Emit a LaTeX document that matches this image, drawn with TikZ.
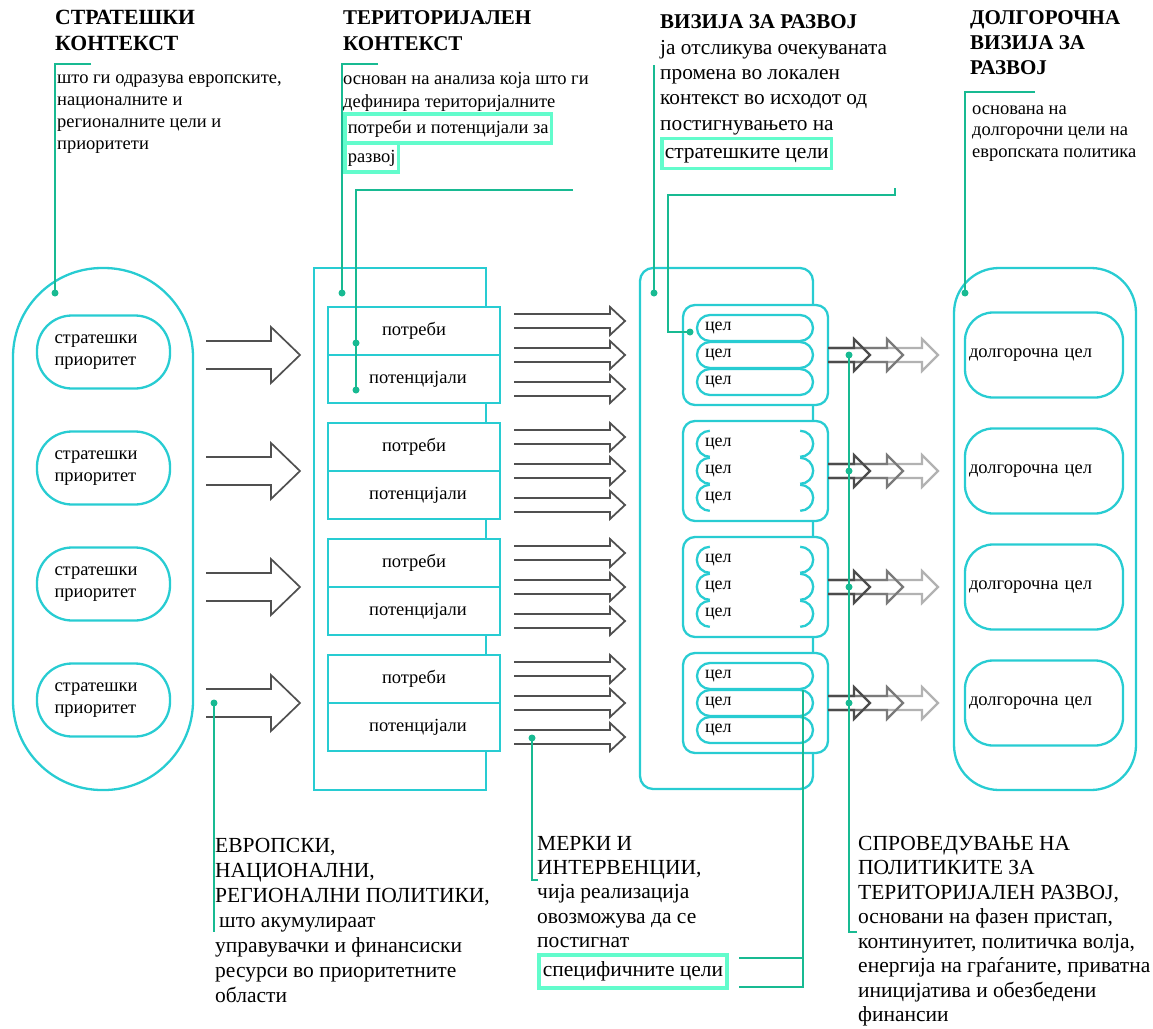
\documentclass[tikz,border=0pt]{standalone}
\usepackage{fontspec}
\setmainfont{Liberation Serif}

\definecolor{frameblue}{RGB}{40,204,210}
\definecolor{calloutgreen}{RGB}{24,186,146}
\definecolor{hlgreen}{RGB}{98,252,204}
\definecolor{arrowgrey}{RGB}{80,80,80}

\begin{document}
\begin{tikzpicture}[x=1pt, y=-1pt]
    \tikzstyle{every node}=[inner sep=0pt]
    \tikzstyle{outline}=[draw=frameblue, line width=2.3pt]
    \tikzstyle{calloutline}=[draw=calloutgreen, line width=1.8pt]
    \tikzstyle{calloutdot}=[fill=calloutgreen, circle, minimum size=7pt]
    \tikzstyle{headtext}=[anchor=north west, align=left, font=\fontsize{21}{26}\bfseries]
    \tikzstyle{notetext}=[anchor=north west, align=left, font=\fontsize{18.5}{23}\selectfont]
    \tikzstyle{bignotetext}=[anchor=north west, align=left, font=\fontsize{21.5}{25}\selectfont]
    \tikzstyle{markbox}=[draw=hlgreen, line width=3.5pt, anchor=base west, inner xsep=3pt, inner ysep=6pt, text height=13pt, text depth=4pt, font=\fontsize{18.5}{23}\selectfont]
    \tikzstyle{prio}=[outline, minimum width=133pt, minimum height=73pt, rounded corners=35pt, text width=98pt, inner xsep=17.5pt, align=left, font=\fontsize{18.5}{22}\selectfont]
    \tikzstyle{cell}=[outline, fill=white, minimum width=172pt, minimum height=48pt, font=\fontsize{18.5}{22}\selectfont]
    \tikzstyle{goalgroup}=[outline, fill=white, minimum width=145pt, minimum height=100pt, rounded corners=12pt]
    \tikzstyle{celtext}=[minimum height=26pt, text width=100pt, inner xsep=8pt, align=left, font=\fontsize{18}{20}\selectfont]
    \tikzstyle{cel}=[celtext, outline, fill=white, rounded corners=13pt]
    \tikzstyle{longgoal}=[outline, minimum width=158pt, minimum height=85pt, rounded corners=28pt, text width=150pt, inner xsep=4pt, align=left, font=\fontsize{18.5}{22}\selectfont]
    \tikzstyle{openarrow}=[draw=arrowgrey, line width=1.7pt]
    \useasboundingbox (0,0) rectangle (1153,1028);

    % headings and notes
    \node (stratctx) [headtext, font=\fontsize{21.7}{26}\bfseries] at (55,6) {\strut СТРАТЕШКИ\\КОНТЕКСТ};
    \node (stratnote) [notetext, font=\fontsize{18.5}{22}\selectfont] at (57,68) {\strut што ги одразува европските,\\националните и\\регионалните цели и\\приоритети};
    \node (terrctx) [headtext] at (343,6) {\strut ТЕРИТОРИЈАЛЕН\\КОНТЕКСТ};
    \node (terrnote) [notetext] at (343,68) {\strut основан на анализа која што ги\\дефинира територијалните};
    \node (needbox) [markbox] at (343,133) {потреби и потенцијали за};
    \node (devbox) [markbox] at (343,162) {развој};
    \node (visionhead) [headtext, font=\fontsize{21}{25}\bfseries] at (660,11) {\strut ВИЗИЈА ЗА РАЗВОЈ};
    \node (visionnote) [notetext, font=\fontsize{21.3}{25.3}\selectfont] at (660,36.3) {\strut ја отсликува очекуваната\\промена во локален\\контекст во исходот од\\постигнувањето на};
    \node (goalbox) [markbox, font=\fontsize{21.5}{25}\selectfont, text height=14pt, text depth=5pt, inner ysep=5.5pt] at (660,158) {стратешките цели};
    \node (longhead) [headtext, font=\fontsize{21}{25}\bfseries] at (970,7) {\strut ДОЛГОРОЧНА\\ВИЗИЈА ЗА\\РАЗВОЈ};
    \node (longnote) [notetext, font=\fontsize{18.5}{21.5}\selectfont] at (972,99) {\strut основана на\\долгорочни цели на\\европската политика};

    \node (policynote) [bignotetext] at (215,834.5) {\strut ЕВРОПСКИ,\\НАЦИОНАЛНИ,\\РЕГИОНАЛНИ ПОЛИТИКИ,\\\hspace{4pt}што акумулираат\\управувачки и финансиски\\ресурси во приоритетните\\области};
    \node (measurenote) [bignotetext, font=\fontsize{21.5}{24.3}\selectfont] at (537,833) {\strut МЕРКИ И\\ИНТЕРВЕНЦИИ,\\чија реализација\\овозможува да се\\постигнат};
    \node (specbox) [markbox, font=\fontsize{21.5}{25}\selectfont, text height=14pt, text depth=5pt, inner ysep=7pt, inner xsep=4pt] at (537,976) {специфичните цели};
    \node (implnote) [bignotetext, font=\fontsize{21.5}{24.5}\selectfont] at (858,832.9) {\strut СПРОВЕДУВАЊЕ НА\\ПОЛИТИКИТЕ ЗА\\ТЕРИТОРИЈАЛЕН РАЗВОЈ,\\основани на фазен пристап,\\континуитет, политичка волја,\\енергија на граѓаните, приватна\\иницијатива и обезбедени\\финансии};

    % strategic context
    \node (stratframe) [outline, minimum width=180pt, minimum height=522pt, rounded corners=89pt] at (103,529) {};
    \foreach \i in {1,...,4} {
        \pgfmathsetmacro\row{239+116*\i}
        \node (prio\i) [prio] at (103.5,\row-3) {стратешки\\приоритет};
        \draw[openarrow] (206,\row-14) -- (271,\row-14) -- (271,\row-28) -- (300,\row) -- (271,\row+28) -- (271,\row+14) -- (206,\row+14);
    }

    % territorial context
    \node (terrframe) [outline, minimum width=172pt, minimum height=522pt] at (400,529) {};
    \foreach \i in {1,...,4} {
        \pgfmathsetmacro\row{239+116*\i}
        \node (need\i) [cell] at (414,\row-24) {\raisebox{-2pt}{потреби}};
        \node (pot\i) [cell] at (414,\row+24) {\hspace{8pt}\raisebox{-2pt}{потенцијали}};
        \foreach \off in {-34,0,34}
            \draw[openarrow, line width=1.8pt] (514,\row+\off-7) -- (610,\row+\off-7) -- (610,\row+\off-14) -- (625,\row+\off) -- (610,\row+\off+14) -- (610,\row+\off+7) -- (514,\row+\off+7);
    }

    % vision for development
    \node (visionframe) [outline, minimum width=173pt, minimum height=521pt, rounded corners=13pt] at (726.5,528.5) {};
    \foreach \i in {1,...,4} {
        \pgfmathsetmacro\row{239+116*\i}
        \node (group\i) [goalgroup] at (755.5,\row) {};
    }
    \foreach \i in {1,4}
        \foreach \j/\off in {1/-27,2/0,3/27}
            \node (cel\i\j) [cel] at (755,239+116*\i+\off) {цел};
    \foreach \i in {2,3}
        \foreach \j/\off in {1/-27,2/0,3/27} {
            \node (cel\i\j) [celtext] at (755,239+116*\i+\off) {цел};
            \draw[outline] ([xshift=13pt]cel\i\j.north west) arc[start angle=90, end angle=270, radius=13pt];
            \draw[outline] ([xshift=-13pt]cel\i\j.north east) arc[start angle=90, end angle=-90, radius=13pt];
        }
    \foreach \i in {1,...,4} {
        \pgfmathsetmacro\row{239+116*\i}
        \foreach \tip/\gl in {938/30,903/52,870/70}
            \draw[openarrow, line width=2.2pt, draw=black!\gl] (828,\row-7) -- (\tip-16,\row-7) -- (\tip-16,\row-16) -- (\tip,\row) -- (\tip-16,\row+16) -- (\tip-16,\row+7) -- (828,\row+7);
    }

    % long-term vision
    \node (longframe) [outline, minimum width=182pt, minimum height=522pt, rounded corners=45pt] at (1045,529) {};
    \foreach \i in {1,...,4}
        \node (longgoal\i) [longgoal] at (1044,239+116*\i) {долгорочна цел};

    % callouts
    \coordinate (stratend) at (91,64);
    \node (stratdot) [calloutdot] at (55,293) {};
    \draw[calloutline] (stratend) -| (stratdot.center);

    \coordinate (terrend) at (378,64);
    \node (terrdot) [calloutdot] at (342,293) {};
    \draw[calloutline] (terrend) -| (terrdot.center);

    \coordinate (needend) at (573,190);
    \node (needdot) [calloutdot] at (356,343) {};
    \node (potdot) [calloutdot] at (356,390) {};
    \draw[calloutline] (needend) -| (potdot.center);

    \coordinate (visionend) at (654,65);
    \node (visiondot) [calloutdot] at (654,293) {};
    \draw[calloutline] (visionend) -- (visiondot.center);

    \coordinate (goaltick) at (895,188);
    \coordinate (goalcorner) at (895,195);
    \coordinate (goalbend) at (668,332);
    \node (goaldot) [calloutdot] at (690,332) {};
    \draw[calloutline] (goaltick) -- (goalcorner) -| (goalbend) -- (goaldot.center);

    \coordinate (longend) at (1035,92);
    \node (longdot) [calloutdot] at (965,293) {};
    \draw[calloutline] (longend) -| (longdot.center);

    \node (policydot) [calloutdot] at (214,703) {};
    \coordinate (policyend) at (214,932);
    \draw[calloutline] (policydot.center) -- (policyend);

    \node (measuredot) [calloutdot] at (532,738) {};
    \coordinate (measureend) at (538,880);
    \draw[calloutline] (measuredot.center) |- (measureend);

    \foreach \i in {1,...,4}
        \node (impldot\i) [calloutdot] at (849,239+116*\i) {};
    \coordinate (implend) at (857,932);
    \draw[calloutline] (impldot1.center) |- (implend);

    \coordinate (spectop) at (803,690);
    \coordinate (specjoin) at (803,958);
    \coordinate (specupper) at (739,958);
    \coordinate (speclower) at (739,987);
    \draw[calloutline] (spectop) |- (speclower);
    \draw[calloutline] (specupper) -- (specjoin);
\end{tikzpicture}
\end{document}
